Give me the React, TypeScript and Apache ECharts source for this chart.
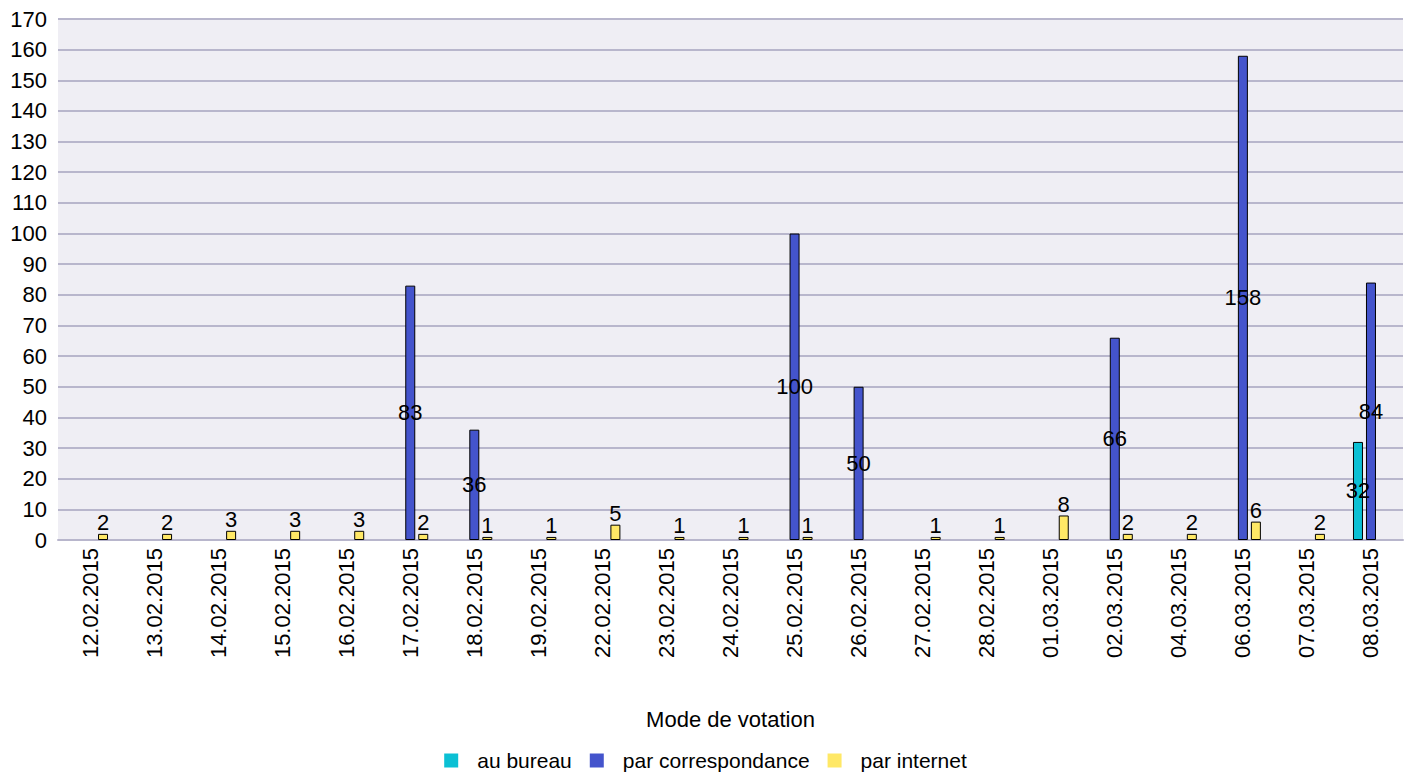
import React, { useEffect, useRef } from "react";
import * as echarts from "echarts";

const categories = [
  "12.02.2015", "13.02.2015", "14.02.2015", "15.02.2015", "16.02.2015",
  "17.02.2015", "18.02.2015", "19.02.2015", "22.02.2015", "23.02.2015",
  "24.02.2015", "25.02.2015", "26.02.2015", "27.02.2015", "28.02.2015",
  "01.03.2015", "02.03.2015", "04.03.2015", "06.03.2015", "07.03.2015",
  "08.03.2015",
];
const auBureau = [null, null, null, null, null, null, null, null, null, null, null, null, null, null, null, null, null, null, null, null, 32];
const parCorrespondance = [null, null, null, null, null, 83, 36, null, null, null, null, 100, 50, null, null, null, 66, null, 158, null, 84];
const parInternet = [2, 2, 3, 3, 3, 2, 1, 1, 5, 1, 1, 1, null, 1, 1, 8, 2, 2, 6, 2, null];
const yTicks = { min: 0, max: 170, interval: 10 };

export default function App() {
  const ref = useRef<HTMLDivElement>(null);
  useEffect(() => {
    const chart = echarts.init(ref.current!, null, { renderer: "svg" });
    const font = "'Liberation Sans', Arial, sans-serif";
    const base = {
      type: "bar",
      barWidth: 10,
      barGap: "30%",
      itemStyle: { borderColor: "#000", borderWidth: 1 },
      label: {
        show: true,
        color: "#000",
        fontSize: 22,
        fontFamily: font,
      },
    };
    chart.setOption({
      animation: false,
      textStyle: { fontFamily: font },
      grid: {
        left: 58,
        right: 8,
        top: 19,
        bottom: 233,
        show: true,
        backgroundColor: "#EFEEF4",
        borderWidth: 0,
        containLabel: false,
      },
      legend: {
        bottom: -3,
        left: "center",
        icon: "rect",
        itemWidth: 14,
        itemHeight: 14,
        itemGap: 18,
        itemStyle: { borderWidth: 0 },
        textStyle: { fontSize: 21, color: "#000", fontFamily: font, padding: [0, 0, 0, 14] },
        data: ["au bureau", "par correspondance", "par internet"],
      },
      xAxis: {
        type: "category",
        data: categories,
        name: "Mode de votation",
        nameLocation: "middle",
        nameGap: 168,
        nameTextStyle: { fontSize: 22, color: "#000", fontFamily: font },
        axisLine: { lineStyle: { color: "#B8B6CC", width: 2 } },
        axisTick: { show: false },
        axisLabel: { rotate: 90, fontSize: 22, color: "#000", margin: 8, fontFamily: font },
      },
      yAxis: {
        type: "value",
        min: yTicks.min,
        max: yTicks.max,
        interval: yTicks.interval,
        axisLine: { show: false },
        axisTick: { show: false },
        axisLabel: { fontSize: 22, color: "#000", margin: 11, fontFamily: font },
        splitLine: { lineStyle: { color: "#B8B6CC", width: 2 } },
      },
      series: [
        {
          ...base,
          name: "au bureau",
          data: auBureau,
          itemStyle: { ...base.itemStyle, color: "#0BC0D4" },
          label: { ...base.label, position: "inside" },
        },
        {
          ...base,
          name: "par correspondance",
          data: parCorrespondance,
          itemStyle: { ...base.itemStyle, color: "#4454CC" },
          label: { ...base.label, position: "inside" },
        },
        {
          ...base,
          name: "par internet",
          data: parInternet,
          itemStyle: { ...base.itemStyle, color: "#FFE866" },
          label: { ...base.label, position: "top", distance: 0 },
        },
      ],
    });
    return () => chart.dispose();
  }, []);
  return <div ref={ref} style={{ width: 1411, height: 773, position: "absolute", left: 0, top: 0 }} />;
}
